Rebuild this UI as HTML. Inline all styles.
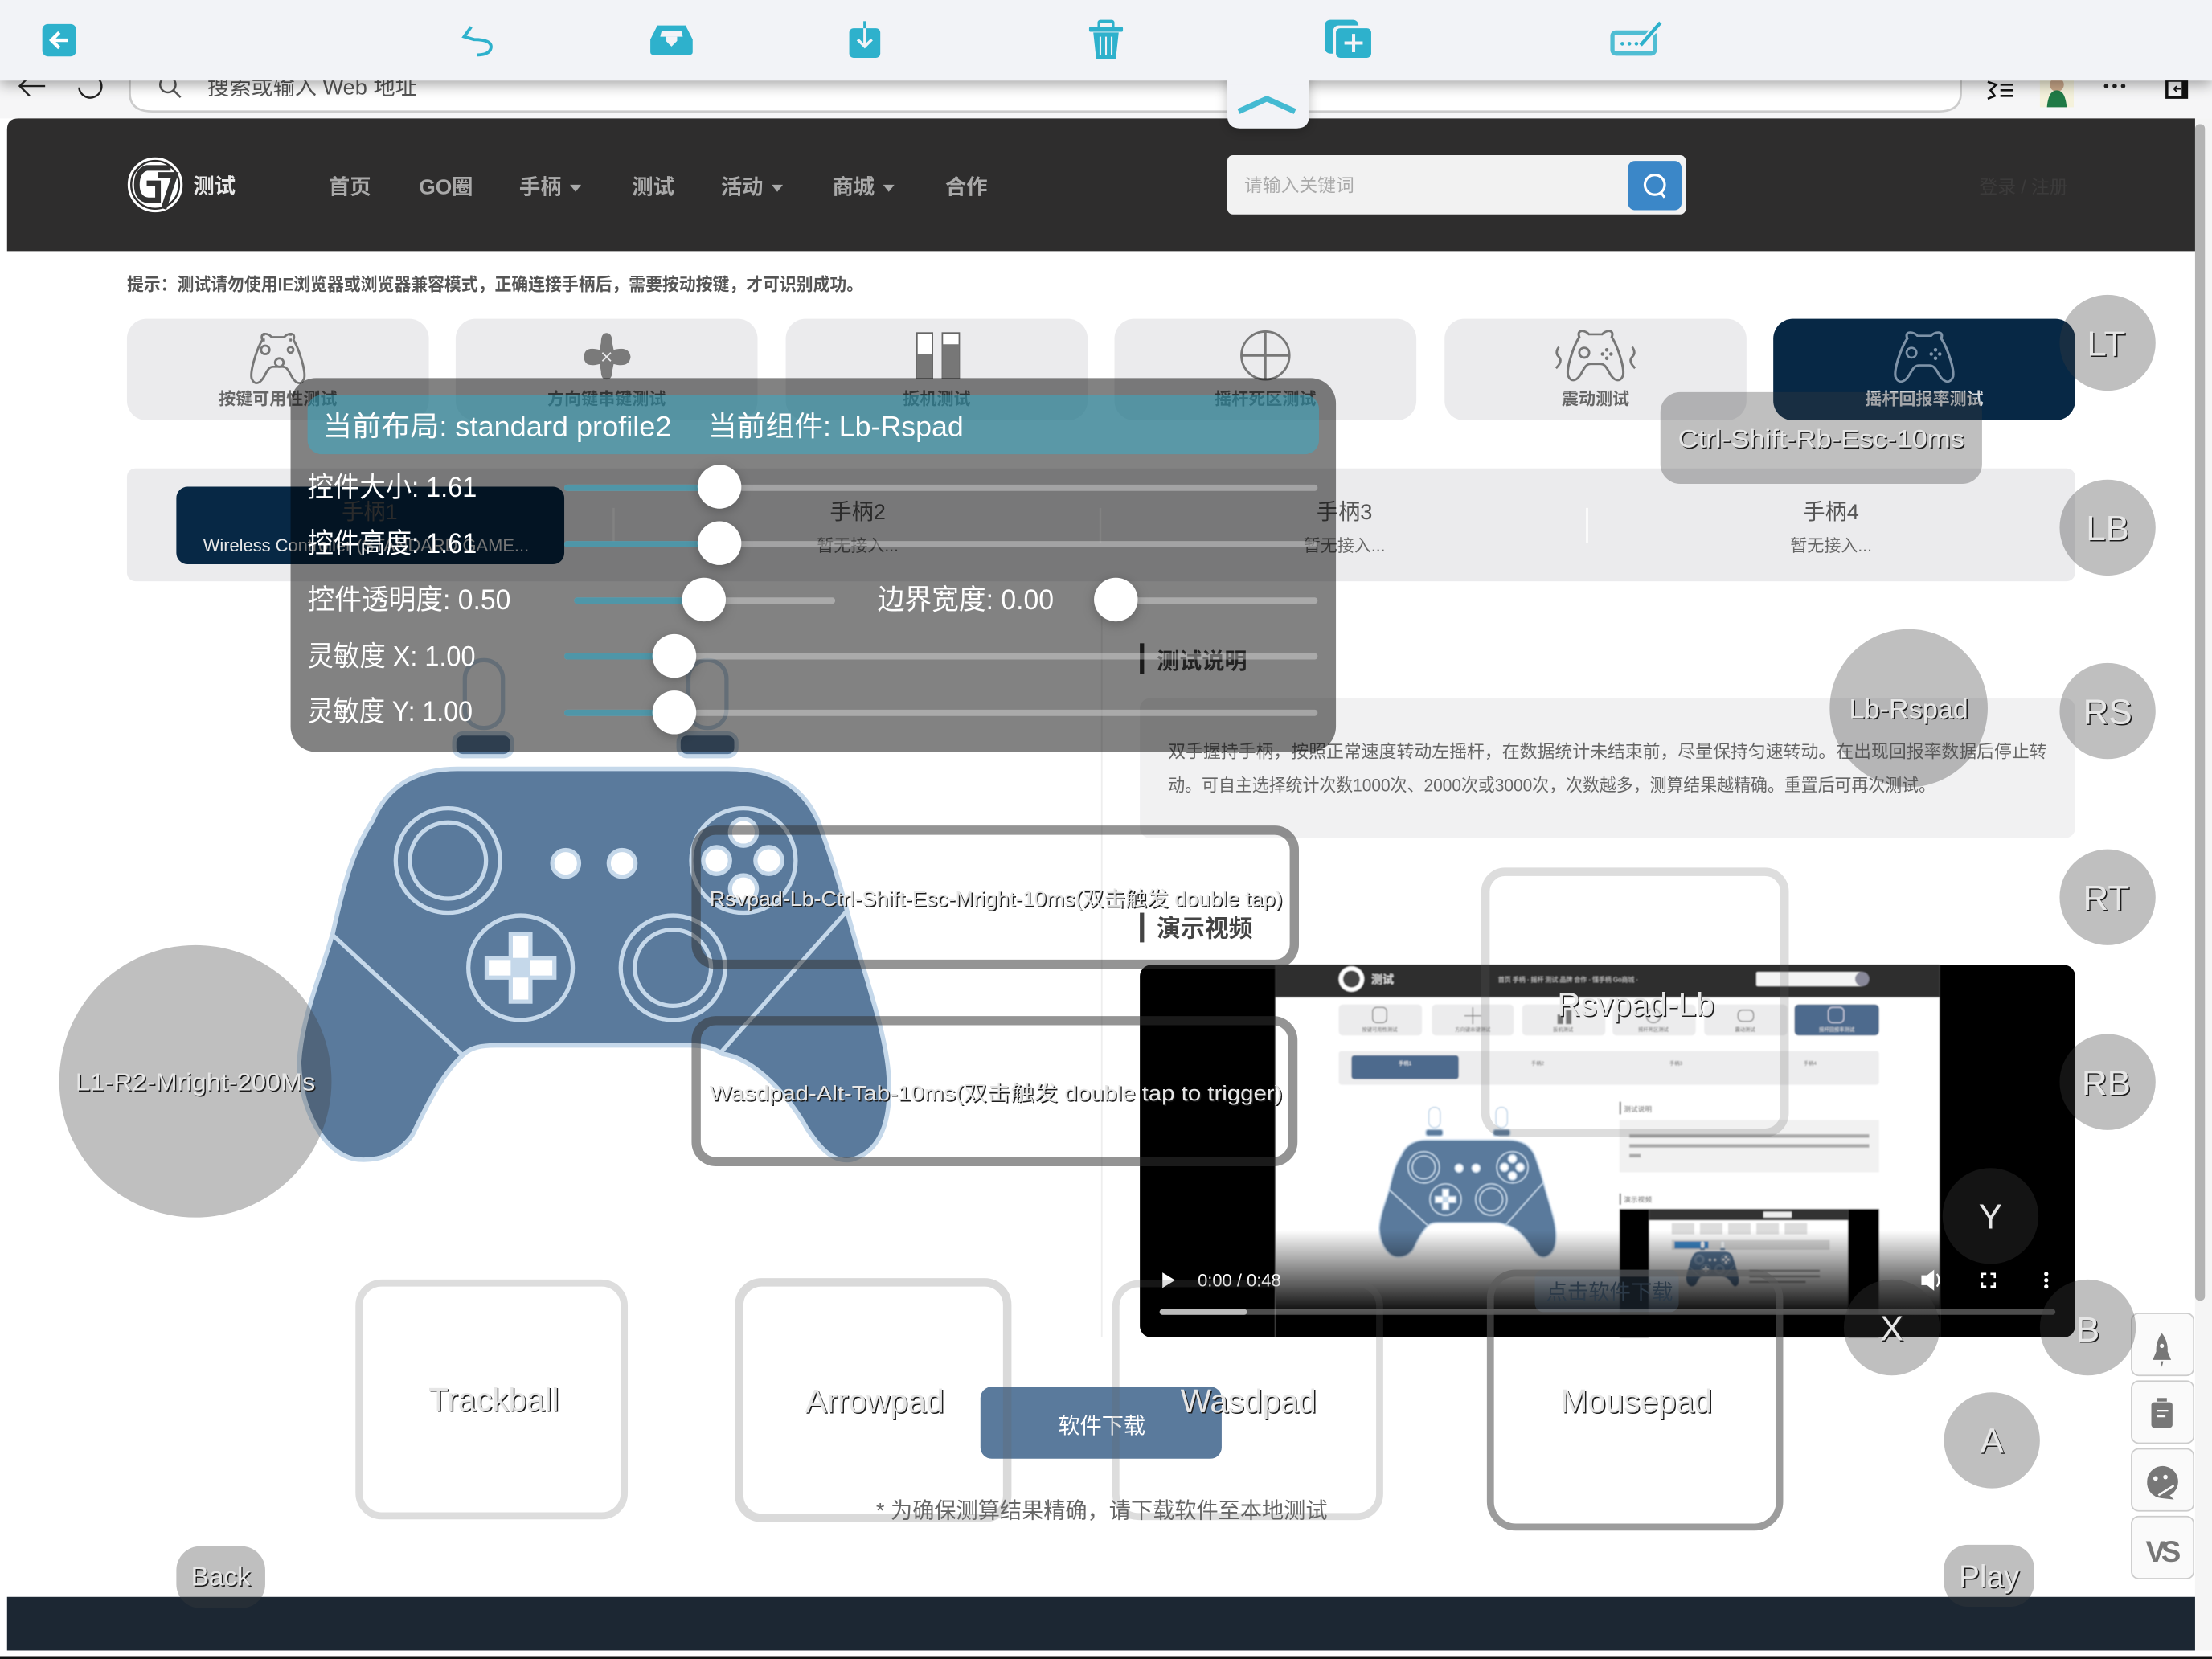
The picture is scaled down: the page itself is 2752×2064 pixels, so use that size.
<!DOCTYPE html>
<html><head><meta charset="utf-8"><style>
html,body{margin:0;padding:0;background:#fff;width:2752px;height:2064px;overflow:hidden}
svg{display:block}
text{font-family:"Liberation Sans","Noto Sans CJK SC",sans-serif}
.s{fill:#e6e6e6;filter:url(#ts)}
.m{text-anchor:middle}
.b{font-weight:700}
.nav{fill:#a9a9a9;font-size:15px;font-weight:700}
.tab{fill:#666;font-size:12px;font-weight:700;text-anchor:middle}
.ico{fill:#2eb1cc}
.pl{fill:#fff;font-size:20px}
.g{fill:rgba(60,60,60,.33)}
.k{fill:none;stroke:#777;stroke-width:1.6}
.small{fill:#555;font-size:3.6px;text-anchor:middle}
</style></head><body>
<svg width="2752" height="2064" viewBox="0 0 1568 1176" xmlns="http://www.w3.org/2000/svg">
<defs>
<filter id="ts" x="-10%" y="-20%" width="120%" height="140%"><feOffset in="SourceAlpha" dx=".9" dy=".9" result="o"/><feFlood flood-color="#1c1c1c"/><feComposite in2="o" operator="in"/><feMerge><feMergeNode/><feMergeNode in="SourceGraphic"/></feMerge></filter>
<filter id="bl" x="-5%" y="-5%" width="110%" height="110%"><feGaussianBlur stdDeviation=".45"/></filter>
<filter id="sh" x="-10%" y="-50%" width="120%" height="250%"><feDropShadow dx="0" dy="3" stdDeviation="5" flood-color="#000" flood-opacity=".35"/></filter>
<filter id="th" x="-50%" y="-50%" width="200%" height="200%"><feDropShadow dx="0" dy="2" stdDeviation="4" flood-color="#000" flood-opacity=".25"/></filter>
<linearGradient id="vg" x1="0" y1="0" x2="0" y2="1"><stop offset="0" stop-color="#000" stop-opacity="0"/><stop offset=".8" stop-color="#000" stop-opacity="1"/></linearGradient>
<g id="pad">
<rect x="329.5" y="468" width="27" height="48" rx="13" fill="#fff" stroke="#c5d8ea" stroke-width="3"/>
<rect x="488" y="468" width="27" height="48" rx="13" fill="#fff" stroke="#c5d8ea" stroke-width="3"/>
<rect x="322" y="520" width="41" height="16" rx="6" fill="#5a7a9c" stroke="#c5d8ea" stroke-width="3"/>
<rect x="481" y="520" width="41" height="16" rx="6" fill="#5a7a9c" stroke="#c5d8ea" stroke-width="3"/>
<path d="M324 545H516C552 545 570 560 580 582C590 610 595 625 600 644C612 690 628 730 630 763C632 795 624 816 604 822C590 825 580 812 572 800C560 778 535 750 512 747C505 742 497 741 488 741H352C342 741 334 742 328 748C310 765 300 790 292 805C282 818 270 823 254 822C232 820 213 790 212 753C214 720 228 690 236 661C245 620 252 600 264 582C274 558 294 545 324 545Z" fill="#5a7a9c" stroke="#c5d8ea" stroke-width="3.2"/>
<g fill="none" stroke="#c5d8ea" stroke-width="3">
<circle cx="317.5" cy="610" r="37"/><circle cx="317.5" cy="610" r="27"/>
<circle cx="369" cy="686" r="37"/>
<circle cx="477" cy="686" r="37"/><circle cx="477" cy="686" r="27"/>
<circle cx="527" cy="610" r="37"/>
<path d="M236 663L328 748M601 645L511 746"/>
</g>
<g fill="#fff" stroke="#c5d8ea" stroke-width="3">
<circle cx="401" cy="612" r="9.5"/><circle cx="441" cy="612" r="9.5"/>
<circle cx="527" cy="590" r="9.5"/><circle cx="508" cy="610" r="9.5"/><circle cx="545" cy="610" r="9.5"/><circle cx="527" cy="630" r="9.5"/>
<path d="M362 662H376V679H393V693H376V710H362V693H345V679H362Z"/>
</g>
<rect x="362" y="679" width="14" height="14" fill="#c5d8ea"/>
</g>
<g id="gp">
<path d="M-10 -13C-12 -19 -6 -18 -4 -15H4C6 -18 12 -19 10 -13C13 -8 18 8 17 14C15 20 11 18 8 11C6 7 5 6 3 6H-3C-5 6-6 7-8 11C-11 18-15 20-17 14C-18 8-13 -8-10 -13Z" fill="none" stroke-width="1.5"/>
</g>
</defs>

<!-- browser bar -->
<rect x="0" y="57" width="1568" height="27" fill="#f6f6f7"/>
<path d="M92 57V66Q92 79 108 79H1374Q1390 79 1390 66V57" fill="#fff" stroke="#ccc" stroke-width="1.5"/>
<path d="M32 61H14M21 54L14 61L21 68" fill="none" stroke="#222" stroke-width="1.4"/>
<path d="M70 56A8 8 0 1 1 56 62" fill="none" stroke="#222" stroke-width="1.4"/>
<circle cx="119" cy="60" r="5.5" fill="none" stroke="#555" stroke-width="1.4"/><path d="M123 64L128 69" stroke="#555" stroke-width="1.4"/>
<text x="147" y="67" font-size="15.5" fill="#555">搜索或输入 Web 地址</text>
<path d="M1409 58L1415 60L1411 64L1414 68L1409 70M1418 60H1427M1418 64H1427M1418 68H1427" fill="none" stroke="#111" stroke-width="1.5"/>
<rect x="1446" y="57" width="24" height="19" fill="#f5f2dc"/>
<ellipse cx="1458" cy="60" rx="5" ry="5" fill="#caa88a"/><path d="M1451 76Q1452 64 1458 64Q1464 64 1465 76Z" fill="#1f7a46"/>
<circle cx="1493" cy="61" r="1.6" fill="#222"/><circle cx="1499" cy="61" r="1.6" fill="#222"/><circle cx="1505" cy="61" r="1.6" fill="#222"/>
<path d="M1536 57H1550V69H1536Z" fill="none" stroke="#111" stroke-width="2"/><path d="M1548 57V69" stroke="#111" stroke-width="3"/><path d="M1541 63H1546M1541 63L1543 61M1541 63L1543 65" stroke="#111" stroke-width="1" fill="none"/>

<!-- page -->
<rect x="5" y="84" width="1551" height="1086" fill="#fff"/>
<rect x="1556" y="84" width="12" height="1086" fill="#f5f5f5"/>
<rect x="1556" y="88" width="7" height="834" rx="3" fill="#b4b4b4"/>
<path d="M5 178V92Q5 84 13 84H1556V178Z" fill="#2e2d2d"/>
<rect x="5" y="1132" width="1551" height="38" fill="#1c2733"/>
<rect x="0" y="1174" width="1568" height="2" fill="#111"/>

<!-- logo -->
<circle cx="110" cy="131" r="20" fill="#fff" stroke="#2e2d2d" stroke-width="1"/>
<circle cx="110" cy="131" r="17" fill="none" stroke="#2e2d2d" stroke-width="1.4"/>
<path d="M121 119H104Q97 121 97 131Q97 141 105 142H112V130H104M112 124H124L116 148" fill="none" stroke="#333" stroke-width="4"/>
<text x="137" y="137" font-size="15" font-weight="700" fill="#e8e8e8">测试</text>

<!-- nav -->
<text class="nav" x="233" y="137.500">首页</text>
<text class="nav" x="297" y="137.500">GO圈</text>
<text class="nav" x="368" y="137.500">手柄</text><path d="M404 131H412L408 136Z" fill="#a9a9a9"/>
<text class="nav" x="448" y="137.500">测试</text>
<text class="nav" x="511" y="137.500">活动</text><path d="M547 131H555L551 136Z" fill="#a9a9a9"/>
<text class="nav" x="590" y="137.500">商城</text><path d="M626 131H634L630 136Z" fill="#a9a9a9"/>
<text class="nav" x="670" y="137.500">合作</text>

<!-- search -->
<rect x="870" y="110" width="325" height="42" rx="4" fill="#f2f2f2"/>
<text x="882" y="136" font-size="13" fill="#aaa">请输入关键词</text>
<rect x="1154" y="114" width="38" height="35" rx="5" fill="#3b87c8"/>
<circle cx="1173" cy="131" r="7" fill="none" stroke="#fff" stroke-width="1.8"/><path d="M1177 136L1180 140" stroke="#fff" stroke-width="1.8"/>
<text x="1403" y="137" font-size="13" fill="#3c3b3b">登录 / 注册</text>

<text x="90" y="206" font-size="12.500" font-weight="700" fill="#555" textLength="522" lengthAdjust="spacingAndGlyphs">提示：测试请勿使用IE浏览器或浏览器兼容模式，正确连接手柄后，需要按动按键，才可识别成功。</text>

<!-- tabs -->
<g fill="#ebebed">
<rect x="90" y="226" width="214" height="72" rx="14"/><rect x="323" y="226" width="214" height="72" rx="14"/>
<rect x="557" y="226" width="214" height="72" rx="14"/><rect x="790" y="226" width="214" height="72" rx="14"/>
<rect x="1024" y="226" width="214" height="72" rx="14"/>
</g>
<rect x="1257" y="226" width="214" height="72" rx="14" fill="#072845"/>
<use href="#gp" transform="translate(197,254) scale(1.1,1)" stroke="#777"/>
<path d="M187 242V234M206 242V234" stroke="#777" stroke-width="1.6" stroke-dasharray="2 2"/>
<circle cx="188" cy="248" r="3" class="k"/><circle cx="206" cy="248" r="2" class="k"/><circle cx="198" cy="257" r="3" class="k"/>
<path d="M430 236Q434 236 434 243L435 248Q446 245 447 253Q446 261 435 258L434 263Q434 269 430 269Q426 269 426 263L425 258Q414 261 414 253Q414 245 425 248L426 243Q426 236 430 236Z" fill="#7a7a7a"/>
<path d="M427 250L433 256M433 250L427 256" stroke="#ebebed" stroke-width="1"/>
<rect x="650" y="236" width="11" height="32" fill="#fff" stroke="#666" stroke-width="1"/><rect x="650" y="251" width="11" height="17" fill="#777"/>
<rect x="668" y="236" width="12" height="32" fill="#fff" stroke="#666" stroke-width="1"/><rect x="668" y="244" width="12" height="24" fill="#777"/>
<circle cx="897" cy="252" r="17" class="k"/><path d="M880 252H914M897 235V269" class="k" stroke-width="1.1"/>
<use href="#gp" transform="translate(1131,252) scale(1.15,1)" stroke="#777"/>
<circle cx="1123" cy="250" r="3.500" class="k"/><circle cx="1139" cy="248" r="1.300" fill="#777"/><circle cx="1139" cy="254" r="1.300" fill="#777"/><circle cx="1136" cy="251" r="1.300" fill="#777"/><circle cx="1142" cy="251" r="1.300" fill="#777"/>
<path d="M1105 246q-3 4 0 7t-2 8M1157 246q3 4 0 7t2 8" class="k" stroke-width="1.2"/>
<use href="#gp" transform="translate(1364,253) scale(1.2,1)" stroke="#7e93a8"/>
<circle cx="1355" cy="250" r="3.500" fill="none" stroke="#7e93a8" stroke-width="1.5"/><circle cx="1372" cy="248" r="1.300" fill="#7e93a8"/><circle cx="1372" cy="254" r="1.300" fill="#7e93a8"/><circle cx="1369" cy="251" r="1.300" fill="#7e93a8"/><circle cx="1375" cy="251" r="1.300" fill="#7e93a8"/>
<text class="tab" x="197" y="287">按键可用性测试</text>
<text class="tab" x="430" y="287">方向键串键测试</text>
<text class="tab" x="664" y="287">扳机测试</text>
<text class="tab" x="897" y="287">摇杆死区测试</text>
<text class="tab" x="1131" y="287">震动测试</text>
<text class="tab" x="1364" y="287" style="fill:#d5d9dd">摇杆回报率测试</text>

<!-- devices -->
<rect x="90" y="332" width="1381" height="80" rx="6" fill="#ebebed"/>
<rect x="125" y="345" width="275" height="55" rx="8" fill="#072845"/>
<path d="M435 360V385M780 360V385M1125 360V385" stroke="#fff" stroke-width="1.4"/>
<text x="262" y="368" font-size="15.500" fill="#555" class="m">手柄1</text>
<text x="608" y="368" font-size="15.500" fill="#555" class="m">手柄2</text>
<text x="953" y="368" font-size="15.500" fill="#555" class="m">手柄3</text>
<text x="1298" y="368" font-size="15.500" fill="#555" class="m">手柄4</text>
<text x="144" y="391" font-size="12.500" fill="#e8e8e8" textLength="231" lengthAdjust="spacingAndGlyphs">Wireless Controller (STANDARD GAME...</text>
<text x="608" y="391" font-size="12" fill="#666" class="m">暂无接入...</text>
<text x="953" y="391" font-size="12" fill="#666" class="m">暂无接入...</text>
<text x="1298" y="391" font-size="12" fill="#666" class="m">暂无接入...</text>

<path d="M781 412V948" stroke="#eee" stroke-width="1"/>

<!-- description -->
<rect x="808" y="456" width="3" height="22" fill="#333"/>
<text x="820" y="474" font-size="16" font-weight="700" fill="#444">测试说明</text>
<rect x="808" y="495" width="663" height="99" rx="7" fill="#f1f1f2"/>
<text x="828" y="537" font-size="12.500" fill="#666" textLength="623" lengthAdjust="spacingAndGlyphs">双手握持手柄，按照正常速度转动左摇杆，在数据统计未结束前，尽量保持匀速转动。在出现回报率数据后停止转</text>
<text x="828" y="561" font-size="12.500" fill="#666" textLength="544" lengthAdjust="spacingAndGlyphs">动。可自主选择统计次数1000次、2000次或3000次，次数越多，测算结果越精确。重置后可再次测试。</text>
<rect x="808" y="647" width="3" height="21" fill="#444"/>
<text x="820" y="664" font-size="17" font-weight="700" fill="#444">演示视频</text>

<use href="#pad"/>

<!-- video -->
<rect x="808" y="684" width="663" height="264" rx="8" fill="#000"/>
<g filter="url(#bl)">
<rect x="904" y="684" width="471" height="264" fill="#fff"/>
<rect x="904" y="684" width="471" height="23" fill="#2e2d2d"/>
<circle cx="958" cy="694" r="9" fill="#fff"/><circle cx="958" cy="694" r="6" fill="#444"/>
<text x="972" y="697" font-size="8" font-weight="700" fill="#ddd">测试</text>
<text x="1062" y="696" font-size="4.500" fill="#ccc">首页 手柄 · 摇杆 测试 品牌 合作 · 懂手柄 Go商城 ·</text>
<rect x="1245" y="689" width="76" height="10" rx="1" fill="#f4f4f4"/>
<circle cx="1320" cy="694" r="5" fill="#889"/>
<g fill="#ececed">
<rect x="949" y="712" width="59" height="22" rx="3"/><rect x="1015" y="712" width="58" height="22" rx="3"/><rect x="1079" y="712" width="59" height="22" rx="3"/><rect x="1143" y="712" width="59" height="22" rx="3"/><rect x="1208" y="712" width="59" height="22" rx="3"/>
</g>
<rect x="1272" y="712" width="60" height="22" rx="3" fill="#4d6a8d"/>
<g fill="none" stroke="#888" stroke-width=".8"><rect x="973" y="714" width="10" height="11" rx="3"/><path d="M1044 714V726M1038 720H1050"/><circle cx="1172" cy="720" r="5"/><rect x="1232" y="716" width="11" height="8" rx="3"/><rect x="1296" y="714" width="11" height="11" rx="3" stroke="#ccd"/></g>
<rect x="1104" y="719" width="4" height="7" fill="#777"/><rect x="1110" y="716" width="4" height="10" fill="#777"/>
<text class="small" x="978" y="731">按键可用性测试</text><text class="small" x="1044" y="731">方向键串键测试</text><text class="small" x="1108" y="731">扳机测试</text><text class="small" x="1172" y="731">摇杆死区测试</text><text class="small" x="1237" y="731">震动测试</text><text class="small" x="1302" y="731" style="fill:#e6e6e6">摇杆回报率测试</text>
<rect x="949" y="745" width="383" height="24" rx="2" fill="#ededee"/>
<rect x="958" y="748" width="76" height="17" rx="2" fill="#4d6a8d"/>
<text class="small" x="996" y="755" style="fill:#fff">手柄1</text>
<text class="small" x="1090" y="755">手柄2</text><text class="small" x="1188" y="755">手柄3</text><text class="small" x="1283" y="755">手柄4</text>
<rect x="1148" y="781" width="1" height="9" fill="#444"/><text x="1151" y="788" font-size="5" fill="#444">测试说明</text>
<rect x="1148" y="794" width="184" height="37" fill="#f1f1f1"/>
<g fill="#aaa"><rect x="1155" y="804" width="170" height="2.500"/><rect x="1155" y="811" width="170" height="2.500"/><rect x="1155" y="818" width="8" height="2.500"/></g>
<rect x="1148" y="846" width="1" height="8" fill="#444"/><text x="1151" y="852" font-size="5" fill="#444">演示视频</text>
<rect x="1148" y="857" width="184" height="91" fill="#000"/>
<rect x="1169" y="857" width="141" height="91" fill="#fff"/>
<rect x="1169" y="857" width="141" height="8" fill="#333"/>
<rect x="1250" y="859" width="20" height="4" fill="#eee"/>
<g fill="#ddd"><rect x="1185" y="867" width="16" height="8"/><rect x="1205" y="867" width="16" height="8"/><rect x="1225" y="867" width="16" height="8"/><rect x="1245" y="867" width="16" height="8"/><rect x="1265" y="867" width="16" height="8"/></g>
<rect x="1185" y="879" width="112" height="7" fill="#ddd"/><rect x="1187" y="880" width="24" height="5" fill="#3b87c8"/>
<g fill="#aaa"><rect x="1240" y="900" width="50" height="1.500"/><rect x="1240" y="904" width="50" height="1.500"/><rect x="1240" y="908" width="40" height="1.500"/></g>
<use href="#pad" transform="translate(1176,838) scale(.09)"/>
<use href="#pad" transform="translate(914,644.500) scale(.3)"/>
</g>
<rect x="904" y="872" width="471" height="76" fill="url(#vg)"/>
<rect x="1088" y="900" width="102" height="30" rx="6" fill="#5a7a9c" opacity=".22"/>
<text x="1096" y="921" font-size="15" fill="#2c3a48">点击软件下载</text>
<path d="M824 902L833 907.500L824 913Z" fill="#fff"/>
<text x="849" y="912" font-size="12.500" fill="#fff">0:00 / 0:48</text>
<path d="M1362 904H1366L1371 900V915L1366 911H1362Z" fill="#fff"/><path d="M1373 903Q1376 907.500 1373 912" fill="none" stroke="#fff" stroke-width="1.300"/>
<path d="M1405 906V903H1408M1411 903H1414V906M1414 909V912H1411M1408 912H1405V909" fill="none" stroke="#fff" stroke-width="1.500"/>
<circle cx="1450.500" cy="903" r="1.500" fill="#fff"/><circle cx="1450.500" cy="907.500" r="1.500" fill="#fff"/><circle cx="1450.500" cy="912" r="1.500" fill="#fff"/>
<rect x="822" y="928" width="635" height="4" rx="2" fill="rgba(255,255,255,.3)"/>
<rect x="822" y="928" width="62" height="4" rx="2" fill="#bbb"/>

<!-- download -->
<rect x="695" y="983" width="171" height="51" rx="8" fill="#5a7a9c"/>
<text x="781" y="1016" font-size="15.500" fill="#fff" class="m">软件下载</text>
<text x="621" y="1076" font-size="15.500" fill="#666" textLength="320" lengthAdjust="spacingAndGlyphs">* 为确保测算结果精确，请下载软件至本地测试</text>

<!-- side tool buttons -->
<g fill="#fafafa" stroke="#ccc" stroke-width="1">
<rect x="1511" y="931" width="44" height="44" rx="5"/><rect x="1511" y="979" width="44" height="44" rx="5"/>
<rect x="1511" y="1027" width="44" height="44" rx="5"/><rect x="1511" y="1075" width="44" height="44" rx="5"/>
</g>
<path d="M1532.500 945Q1537 951 1536.500 958L1539 964H1526L1528.500 958Q1528 951 1532.500 945ZM1531.500 965H1533.500L1532.500 969Z" fill="#777"/><circle cx="1532.500" cy="954" r="1.500" fill="#fafafa"/>
<rect x="1529" y="991" width="7" height="2.500" fill="#777"/><rect x="1525" y="994" width="15" height="18" rx="2" fill="#777"/><path d="M1529 1000H1537M1529 1004H1535" stroke="#fafafa" stroke-width="1.300"/>
<path d="M1522 1050A11 11 0 1 1 1538 1060L1541 1063L1532 1062A11 11 0 0 1 1522 1050Z" fill="#777"/><circle cx="1528" cy="1048" r="1.600" fill="#fafafa"/><circle cx="1535" cy="1047" r="1.600" fill="#fafafa"/><path d="M1530 1060L1541 1053" stroke="#fafafa" stroke-width="1.500"/>
<text x="1532" y="1107" font-size="21" font-weight="700" fill="#777" class="m" letter-spacing="-3">VS</text>

<!-- settings panel -->
<rect x="206" y="268" width="741" height="265" rx="18" fill="rgba(0,0,0,.49)"/>
<rect x="218" y="280" width="717" height="42" rx="10" fill="rgba(50,174,204,.5)"/>
<text class="pl" x="229" y="309" textLength="247" lengthAdjust="spacingAndGlyphs">当前布局: standard profile2</text>
<text class="pl" x="502" y="309" textLength="181" lengthAdjust="spacingAndGlyphs">当前组件: Lb-Rspad</text>
<text class="pl" x="218" y="352" textLength="120" lengthAdjust="spacingAndGlyphs">控件大小: 1.61</text>
<text class="pl" x="218" y="392" textLength="120" lengthAdjust="spacingAndGlyphs">控件高度: 1.61</text>
<text class="pl" x="218" y="432" textLength="144" lengthAdjust="spacingAndGlyphs">控件透明度: 0.50</text>
<text class="pl" x="622" y="432" textLength="125" lengthAdjust="spacingAndGlyphs">边界宽度: 0.00</text>
<text class="pl" x="218" y="472" textLength="119" lengthAdjust="spacingAndGlyphs">灵敏度 X: 1.00</text>
<text class="pl" x="218" y="511" textLength="117" lengthAdjust="spacingAndGlyphs">灵敏度 Y: 1.00</text>
<g fill="rgba(255,255,255,.32)">
<rect x="400" y="343.500" width="534" height="4.500" rx="2"/><rect x="400" y="383.500" width="534" height="4.500" rx="2"/>
<rect x="407" y="423.500" width="185" height="4.500" rx="2"/><rect x="791" y="423.500" width="143" height="4.500" rx="2"/>
<rect x="400" y="463" width="534" height="4.500" rx="2"/><rect x="400" y="503" width="534" height="4.500" rx="2"/>
</g>
<g fill="#4f96a8">
<rect x="400" y="343.500" width="110" height="4.500" rx="2"/><rect x="400" y="383.500" width="110" height="4.500" rx="2"/>
<rect x="407" y="423.500" width="92" height="4.500" rx="2"/>
<rect x="400" y="463" width="78" height="4.500" rx="2"/><rect x="400" y="503" width="78" height="4.500" rx="2"/>
</g>
<g fill="#fff" filter="url(#th)">
<circle cx="510" cy="345" r="15.500"/><circle cx="510" cy="385" r="15.500"/><circle cx="499" cy="425" r="15.500"/><circle cx="791" cy="425" r="15.500"/><circle cx="478" cy="465" r="15.500"/><circle cx="478" cy="505" r="15.500"/>
</g>

<!-- overlay outlines -->
<rect x="493.500" y="588.500" width="424" height="95" rx="14" fill="none" stroke="rgba(50,50,50,.52)" stroke-width="6.500"/>
<rect x="493.500" y="723.500" width="423" height="100" rx="14" fill="none" stroke="rgba(50,50,50,.52)" stroke-width="6.500"/>
<rect x="1053" y="618" width="212" height="185" rx="14" fill="none" stroke="rgba(100,100,100,.22)" stroke-width="6"/>
<rect x="254.500" y="909.500" width="188" height="165" rx="16" fill="none" stroke="rgba(100,100,100,.22)" stroke-width="5"/>
<rect x="524" y="909" width="190" height="167" rx="16" fill="none" stroke="rgba(100,100,100,.24)" stroke-width="6"/>
<rect x="791" y="910" width="187" height="165" rx="16" fill="none" stroke="rgba(100,100,100,.22)" stroke-width="5"/>
<rect x="1056.500" y="902.500" width="205" height="180" rx="18" fill="none" stroke="rgba(90,90,90,.6)" stroke-width="5"/>
<text class="s m" x="706" y="642" font-size="14.500" textLength="406" lengthAdjust="spacingAndGlyphs">Rsvpad-Lb-Ctrl-Shift-Esc-Mright-10ms(双击触发 double tap)</text>
<text class="s m" x="706" y="780" font-size="15" textLength="406" lengthAdjust="spacingAndGlyphs">Wasdpad-Alt-Tab-10ms(双击触发 double tap to trigger)</text>
<text class="s m" x="1159.500" y="720" font-size="23">Rsvpad-Lb</text>
<text class="s m" x="350" y="1000" font-size="23">Trackball</text>
<text class="s m" x="620" y="1001" font-size="23">Arrowpad</text>
<text class="s m" x="885" y="1001" font-size="23">Wasdpad</text>
<text class="s m" x="1160" y="1001" font-size="23">Mousepad</text>

<!-- overlay circles -->
<circle class="g" cx="1494" cy="243" r="34"/><circle class="g" cx="1494" cy="374" r="34"/>
<circle class="g" cx="1494" cy="504" r="34"/><circle class="g" cx="1494" cy="636" r="34"/>
<circle class="g" cx="1494" cy="767" r="34"/><circle class="g" cx="1353" cy="502" r="56"/>
<circle class="g" cx="138.500" cy="766.500" r="96.500"/>
<circle class="g" cx="1411" cy="862" r="34"/><circle class="g" cx="1341" cy="941" r="34"/>
<circle class="g" cx="1480" cy="941" r="34"/><circle class="g" cx="1412" cy="1021" r="34"/>
<rect class="g" x="125" y="1096" width="63" height="44" rx="17"/>
<rect class="g" x="1378" y="1095" width="64" height="44" rx="17"/>
<rect class="g" x="1177" y="278" width="228" height="65" rx="14"/>
<text class="s m" x="1493" y="252" font-size="25">LT</text>
<text class="s m" x="1494" y="383" font-size="25">LB</text>
<text class="s m" x="1494" y="513" font-size="25">RS</text>
<text class="s m" x="1493" y="645" font-size="25">RT</text>
<text class="s m" x="1493" y="776" font-size="25">RB</text>
<text class="s m" x="1353" y="509" font-size="19.500">Lb-Rspad</text>
<text class="s m" x="138.500" y="773" font-size="17.500" textLength="170" lengthAdjust="spacingAndGlyphs">L1-R2-Mright-200Ms</text>
<text class="s m" x="1411" y="871" font-size="25">Y</text>
<text class="s m" x="1341" y="950" font-size="25">X</text>
<text class="s m" x="1480" y="951" font-size="25">B</text>
<text class="s m" x="1412" y="1030" font-size="25">A</text>
<text class="s m" x="156.500" y="1124" font-size="19">Back</text>
<text class="s m" x="1410" y="1125" font-size="22">Play</text>
<text class="s m" x="1291" y="317" font-size="18" textLength="203" lengthAdjust="spacingAndGlyphs">Ctrl-Shift-Rb-Esc-10ms</text>

<!-- top toolbar -->
<rect x="0" y="0" width="1568" height="57" fill="#f2f3f7" filter="url(#sh)"/>
<path d="M870 50H928V82Q928 91 919 91H879Q870 91 870 82Z" fill="#f2f3f7" filter="url(#th)"/>
<rect x="0" y="0" width="1568" height="57" fill="#f2f3f7"/>
<rect x="870" y="50" width="58" height="10" fill="#f2f3f7"/>
<path d="M878 79L898 70L918 79" fill="none" stroke="#44bad2" stroke-width="4"/>
<rect class="ico" x="30" y="17" width="24" height="23" rx="4"/>
<path d="M48 28.500H37M42 23L36.500 28.500L42 34" fill="none" stroke="#fff" stroke-width="2.500"/>
<path d="M334 19L329 26L336 28Q349 28 348 34Q347 39 338 39" fill="none" stroke="#2eb1cc" stroke-width="2.200"/>
<path class="ico" d="M466 18H486L491 28V37Q491 39 488 39H464Q461 39 461 37V28Z"/>
<path d="M469 22H483L484 26H468Z" fill="#f2f3f7"/><path d="M472 26H480V29L476 33L472 29Z" fill="#f2f3f7"/>
<rect class="ico" x="602" y="20" width="22" height="21" rx="3"/>
<path d="M613 20V33M608 28L613 33L618 28" fill="none" stroke="#f2f3f7" stroke-width="2"/><path d="M613 15V20" stroke="#2eb1cc" stroke-width="2"/>
<rect class="ico" x="772" y="19" width="24" height="3.500" rx="1"/><rect x="779" y="15" width="10" height="5" rx="1" fill="none" stroke="#2eb1cc" stroke-width="2"/>
<path class="ico" d="M775 23H793L791 41Q791 42 789 42H779Q777 42 777 41Z"/>
<path d="M780 26V39M784 26V39M788 26V39" stroke="#f2f3f7" stroke-width="1.200"/>
<rect class="ico" x="939" y="14" width="24" height="24" rx="4"/>
<rect x="945" y="18" width="27" height="23" rx="4" fill="#f2f3f7"/>
<rect class="ico" x="947" y="20" width="25" height="21" rx="3"/>
<path d="M953 30.500H966M959.500 24V37" stroke="#f2f3f7" stroke-width="2.300"/>
<rect x="1143" y="23" width="30" height="15" rx="2.500" fill="none" stroke="#4fbdd3" stroke-width="3"/>
<circle cx="1150" cy="31" r="1.300" fill="#2eb1cc"/><circle cx="1155" cy="31" r="1.300" fill="#2eb1cc"/><circle cx="1160" cy="31" r="1.300" fill="#2eb1cc"/>
<path d="M1163 32L1177 16" stroke="#f2f3f7" stroke-width="5"/><path d="M1163 32L1177 16" stroke="#2eb1cc" stroke-width="2.500"/>
</svg>
</body></html>
